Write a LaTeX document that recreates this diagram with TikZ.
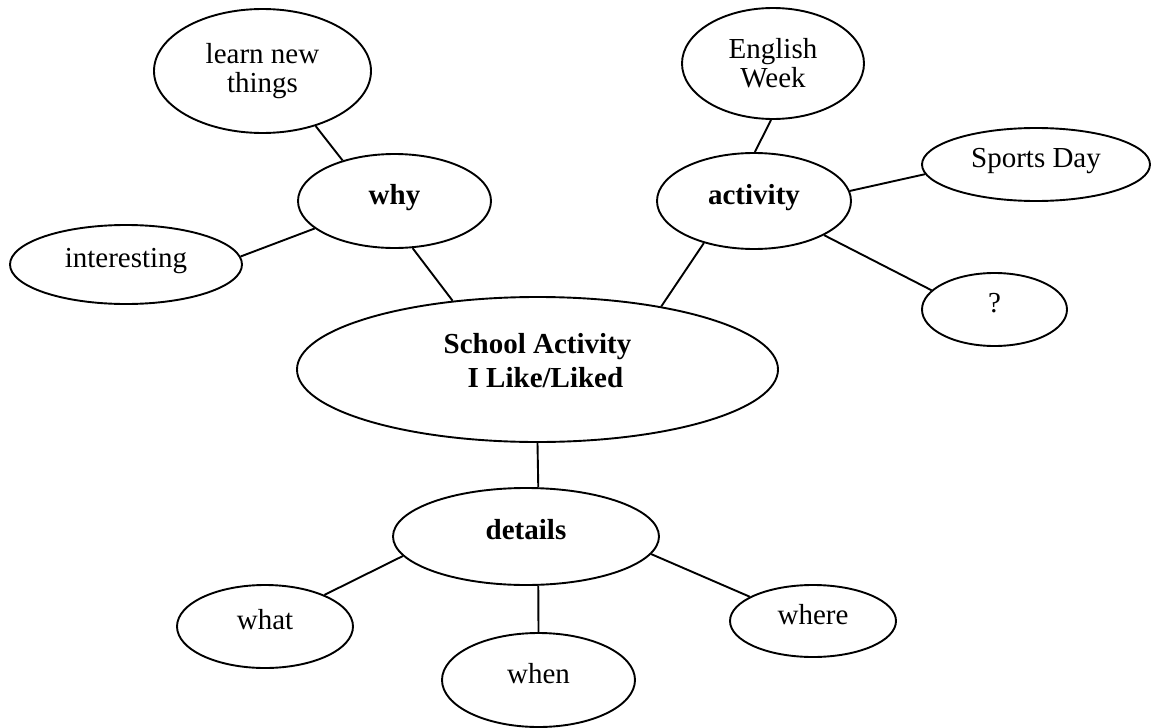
\documentclass[tikz,border=0pt]{standalone}
\usepackage{fontspec}
\setmainfont{Liberation Serif}
\usetikzlibrary{shapes.geometric}
\begin{document}
\begin{tikzpicture}[x=1pt,y=-1pt,
  bub/.style={ellipse,draw,line width=1.9pt,inner sep=0pt,font=\fontsize{29}{29}\selectfont,text height=20pt,text depth=13.6pt},
  bbub/.style={bub,font=\fontsize{29}{29}\selectfont\bfseries},
  mbub/.style={ellipse,draw,line width=1.9pt,inner sep=0pt,align=center,font=\fontsize{29}{29}\selectfont},
  link/.style={line width=1.9pt}]
\useasboundingbox (0,0) rectangle (1152,728);
\node[mbub,minimum width=217pt,minimum height=124pt] (learn) at (262.5,71) {learn new\\things};
\node[bbub,minimum width=193pt,minimum height=94pt] (why) at (394.5,201) {why};
\node[bub,minimum width=232pt,minimum height=79pt] (int) at (126,264.5) {interesting};
\node[mbub,minimum width=182pt,minimum height=111pt] (eng) at (773,63.5) {English\\Week};
\node[bbub,minimum width=194pt,minimum height=96pt] (act) at (754,201) {activity};
\node[bub,minimum width=228pt,minimum height=73pt] (sports) at (1036,164.5) {Sports Day};
\node[bub,minimum width=145pt,minimum height=73pt] (q) at (994.5,309.5) {?};
\node[ellipse,draw,line width=1.9pt,inner sep=0pt,minimum width=481pt,minimum height=145pt,font=\fontsize{29}{34}\selectfont\bfseries] (school) at (537.5,369.5)
  {\raisebox{6pt}[\height][\depth]{\begin{tabular}{@{}c@{}}School Activity\\\hspace*{16pt}I Like/Liked\end{tabular}}};
\node[bbub,minimum width=266pt,minimum height=97pt] (det) at (526,536.5) {details};
\node[bub,minimum width=176pt,minimum height=83pt] (what) at (265,626.5) {what};
\node[bub,minimum width=193pt,minimum height=94pt] (when) at (538.5,680) {when};
\node[bub,minimum width=166pt,minimum height=72pt] (where) at (813,621) {where};
\draw[link] (learn.-46) -- (why.142);
\draw[link] (int.4) -- (why.199);
\draw[link] (why.-69) -- (school.141);
\draw[link] (eng.-92) -- (act.89);
\draw[link] (act.6) -- (sports.185);
\draw[link] (act.-26) -- (q.163);
\draw[link] (act.220) -- (school.27);
\draw[link] (school.-90) -- (det.76);
\draw[link] (det.189) -- (what.28);
\draw[link] (det.-76) -- (when.90);
\draw[link] (det.-8) -- (where.159);
\end{tikzpicture}
\end{document}
